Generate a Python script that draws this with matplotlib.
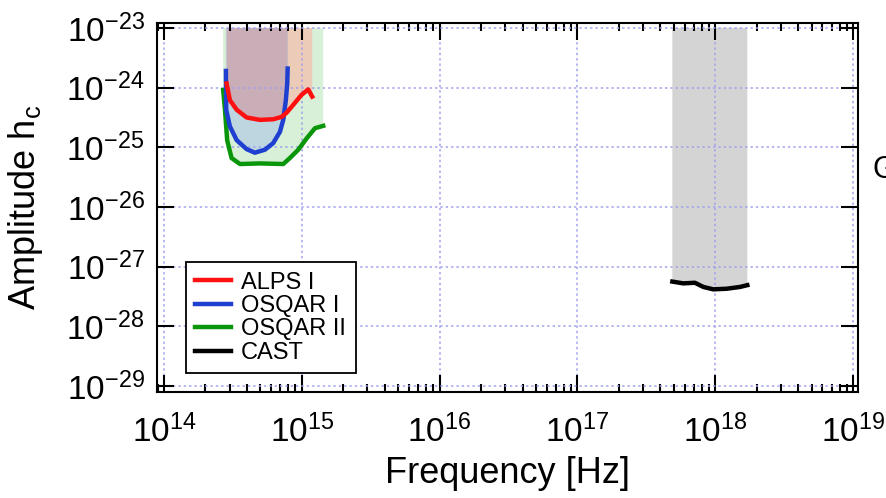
import numpy as np
import matplotlib
matplotlib.use('Agg')
import matplotlib.pyplot as plt
from matplotlib.ticker import LogLocator, FuncFormatter, NullLocator, FixedLocator

plt.rcParams['font.family'] = ['Liberation Sans', 'DejaVu Sans']
plt.rcParams['mathtext.fontset'] = 'custom'
plt.rcParams['mathtext.rm'] = 'Liberation Sans'
plt.rcParams['mathtext.it'] = 'Liberation Sans:italic'

# values, as log10(frequency) and log10(h_c)
alps_f = [14.455, 14.479, 14.528, 14.600, 14.697, 14.793, 14.854, 14.890,
          14.938, 14.999, 15.047, 15.076]
alps_h = [-23.93, -24.21, -24.37, -24.50, -24.54, -24.53, -24.49, -24.42,
          -24.29, -24.12, -24.03, -24.15]

osqar1_f = [14.450, 14.452, 14.479, 14.528, 14.600, 14.660, 14.733, 14.793,
            14.842, 14.866, 14.885, 14.895, 14.898]
osqar1_h = [-23.72, -24.37, -24.65, -24.88, -25.03, -25.09, -25.04, -24.93,
            -24.74, -24.54, -24.21, -23.93, -23.68]

osqar2_f = [14.430, 14.443, 14.459, 14.491, 14.552, 14.697, 14.866, 14.914,
            14.975, 15.036, 15.096, 15.156]
osqar2_h = [-24.04, -24.37, -24.88, -25.18, -25.28, -25.27, -25.28, -25.18,
            -25.04, -24.85, -24.68, -24.64]

cast_f = [17.689, 17.768, 17.853, 17.914, 17.986, 18.083, 18.180, 18.233]
cast_h = [-27.25, -27.28, -27.27, -27.34, -27.38, -27.37, -27.34, -27.31]

x_tick_exp = [14, 15, 16, 17, 18, 19]
y_tick_exp = [-29, -28, -27, -26, -25, -24, -23]

top_h = -23

fig = plt.figure(figsize=(8.87, 4.98), dpi=100)
ax = fig.add_axes([0.177, 0.2129, 0.7903, 0.741])


def region(f, h):
    xs = list(f) + [f[-1], f[0]]
    ys = list(h) + [top_h, top_h]
    return 10.0 ** np.array(xs), 10.0 ** np.array(ys)


# shaded excluded regions
ax.fill(*region(osqar2_f, osqar2_h), color='#d7f0d7', lw=0)
ax.fill(*region(alps_f, alps_h), color='#ecccb8', lw=0)
blue_patch = ax.fill(*region(osqar1_f, osqar1_h), color='#bdd6e0', lw=0)[0]
overlap = ax.fill(*region(alps_f, alps_h), color='#c9aeb8', lw=0)[0]
overlap.set_clip_path(blue_patch)
ax.fill(*region(cast_f, cast_h), color='#d4d4d4', lw=0)

# curves
ax.plot(10.0 ** np.array(osqar2_f), 10.0 ** np.array(osqar2_h), color='#0a960a', lw=3.2, zorder=3)
ax.plot(10.0 ** np.array(osqar1_f), 10.0 ** np.array(osqar1_h), color='#1e3fd0', lw=3.2, zorder=3)
ax.plot(10.0 ** np.array(alps_f), 10.0 ** np.array(alps_h), color='#ff1010', lw=3.2, zorder=3)
ax.plot(10.0 ** np.array(cast_f), 10.0 ** np.array(cast_h), color='black', lw=3.2, zorder=3)

ax.set_xscale('log')
ax.set_yscale('log')
ax.set_xlim(10 ** 13.95, 10 ** 19.036)
ax.set_ylim(10 ** -29.1, 10 ** -22.916)

ax.xaxis.set_major_locator(FixedLocator([10.0 ** e for e in x_tick_exp]))
ax.xaxis.set_minor_locator(LogLocator(base=10, subs=range(2, 10), numticks=20))
ax.yaxis.set_major_locator(FixedLocator([10.0 ** e for e in y_tick_exp]))
ax.yaxis.set_minor_locator(NullLocator())
fmt = FuncFormatter(lambda v, p: r'$\mathregular{10^{%d}}$' % round(np.log10(v)))
ax.xaxis.set_major_formatter(fmt)
ax.yaxis.set_major_formatter(fmt)

ax.tick_params(which='both', direction='in', top=True, right=True, width=1.5,
               labelsize=24)
ax.tick_params(which='major', length=12)
ax.tick_params(which='minor', length=6)
ax.tick_params(axis='x', pad=16)
ax.tick_params(axis='y', pad=9)
for s in ax.spines.values():
    s.set_linewidth(1.5)

ax.set_axisbelow('line')
ax.grid(which='major', color='#a0a0ee', linestyle=(0, (1.5, 2)), linewidth=1.1)

ax.set_xlabel('Frequency [Hz]', fontsize=26, labelpad=5)
ax.set_ylabel(r'Amplitude h$_\mathregular{c}$', fontsize=26, labelpad=15)

leg_labels = ['ALPS I', 'OSQAR I', 'OSQAR II', 'CAST']
handles = ax.get_lines()
order = [2, 1, 0, 3]
leg = ax.legend([handles[i] for i in order], leg_labels, loc='upper left',
                bbox_to_anchor=(0.041, 0.352), borderaxespad=0, fontsize=17,
                handlelength=1.5, handletextpad=0.45, labelspacing=0.06,
                borderpad=0.4, fancybox=False, framealpha=1, edgecolor='black')
leg.get_frame().set_linewidth(1.3)

fig.text(0.984, 0.659, 'G', fontsize=22, ha='left', va='center')

fig.savefig('out.png', dpi=100)
